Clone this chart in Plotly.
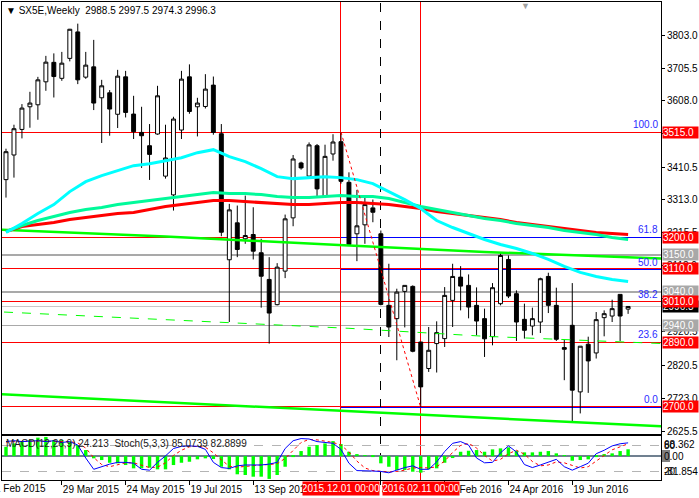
import pandas as pd
import plotly.graph_objects as go

# SX5E weekly bars, first bar week of 8 Feb 2015
weeks = pd.date_range("2015-02-08", periods=79, freq="7D")

opens = [3373.5, 3446.8, 3522.8, 3590.2, 3596.1, 3664.4, 3722.3, 3674.8, 3734.1, 3812.8,
         3678.3, 3708.9, 3616.9, 3631.7, 3567.9, 3679.2, 3568.5, 3513.9, 3474.4, 3509.2,
         3383.9, 3328.1, 3521.0, 3679.2, 3590.2, 3591.1, 3654.6, 3510.0, 3135.2, 3245.0,
         3197.5, 3210.3, 3156.0, 3076.7, 3001.6, 3101.4, 3259.8, 3423.1, 3384.0, 3474.4,
         3324.0, 3449.8, 3486.3, 3365.5, 3212.4, 3239.1, 3289.5, 3212.4, 2999.6, 2960.1,
         3041.1, 3056.0, 2890.6, 2811.7, 2885.9, 2900.7, 3014.4, 3083.6, 3059.0, 2999.6,
         2960.1, 2906.6, 3004.6, 3136.1, 3034.3, 2958.0, 2938.1, 2950.0, 3085.6, 2999.6,
         2874.0, 2940.2, 2742.2, 2884.0, 2858.0, 2963.0, 2967.8, 3032.2, 2988.5]
highs = [3465.5, 3536.8, 3598.2, 3634.7, 3679.2, 3741.6, 3749.0, 3753.4, 3821.7, 3837.4,
         3753.4, 3789.1, 3670.3, 3639.8, 3700.0, 3697.0, 3622.8, 3590.2, 3538.8, 3652.5,
         3536.8, 3560.5, 3697.0, 3716.3, 3616.9, 3687.2, 3680.1, 3538.8, 3301.4, 3296.4,
         3326.0, 3291.3, 3197.5, 3142.9, 3125.1, 3269.6, 3446.8, 3426.9, 3484.2, 3479.5,
         3477.4, 3508.6, 3515.0, 3395.2, 3343.0, 3321.0, 3314.2, 3222.2, 3123.3, 3049.1,
         3059.0, 3059.0, 2890.6, 2935.2, 2952.1, 3053.9, 3123.3, 3116.2, 3091.6, 3053.0,
         2989.8, 3065.8, 3156.8, 3148.0, 3044.1, 3004.6, 2992.7, 3081.8, 3096.6, 3052.1,
         2897.8, 3065.8, 2878.1, 2906.4, 2979.7, 2984.7, 3016.4, 3032.2, 2997.5]
lows = [3320.1, 3379.5, 3496.1, 3527.9, 3551.6, 3637.7, 3617.8, 3667.4, 3725.2, 3657.6,
        3673.3, 3580.4, 3482.5, 3504.1, 3527.0, 3558.4, 3494.3, 3408.3, 3372.6, 3507.1,
        3376.5, 3281.5, 3494.3, 3569.4, 3502.0, 3585.1, 3507.1, 3205.2, 2950.0, 3142.9,
        3182.7, 3136.1, 2992.7, 2885.9, 2999.6, 3080.6, 3234.9, 3403.2, 3381.0, 3323.1,
        3320.1, 3429.9, 3361.7, 3177.6, 3131.0, 3182.7, 3246.8, 2999.6, 2905.5, 2836.3,
        2934.0, 2860.0, 2697.0, 2801.6, 2799.8, 2875.8, 2935.2, 2984.7, 2961.0, 2910.5,
        2846.1, 2880.8, 2999.6, 3021.2, 2893.6, 2900.7, 2910.5, 2917.4, 2976.7, 2893.6,
        2777.0, 2653.2, 2678.2, 2739.3, 2841.4, 2907.5, 2950.0, 2893.6, 2974.3]
closes = [3456.6, 3524.9, 3586.3, 3601.2, 3670.3, 3722.9, 3680.1, 3719.9, 3820.8, 3670.3,
          3714.0, 3601.2, 3652.5, 3583.4, 3681.3, 3573.3, 3516.0, 3504.1, 3448.6, 3622.8,
          3437.9, 3553.7, 3672.4, 3576.2, 3601.2, 3642.7, 3513.9, 3217.1, 3283.6, 3165.8,
          3207.3, 3160.7, 3086.2, 2976.7, 3113.2, 3256.9, 3434.9, 3408.3, 3476.8, 3346.0,
          3442.7, 3485.4, 3368.5, 3180.6, 3236.1, 3299.3, 3276.5, 3002.5, 2935.2, 3039.0,
          3059.0, 2863.0, 2757.1, 2866.0, 2918.5, 3029.2, 3085.6, 3056.8, 2994.5, 2952.9,
          2900.1, 3052.1, 3148.0, 3027.2, 2950.0, 2925.4, 2960.1, 3078.8, 2999.6, 2898.7,
          2869.0, 2747.3, 2878.1, 2834.3, 2957.1, 2974.9, 2989.8, 2967.8, 2996.3]

# moving averages, read every second bar
ma_fast = [3216.2, 3242.9, 3272.6, 3299.3, 3337.9, 3367.6, 3385.4, 3400.2, 3415.1, 3421.0,
           3429.9, 3438.8, 3453.7, 3462.6, 3441.8, 3426.9, 3406.2, 3382.4, 3376.5, 3379.5,
           3382.4, 3379.5, 3373.5, 3361.7, 3337.9, 3314.2, 3287.5, 3251.8, 3231.1, 3213.3,
           3195.4, 3180.6, 3168.7, 3153.9, 3136.1, 3115.3, 3097.5, 3085.6, 3076.7, 3070.8]
ma_mid = [3219.2, 3237.0, 3251.8, 3263.7, 3275.6, 3284.5, 3290.4, 3299.3, 3305.3, 3311.2,
          3317.1, 3323.1, 3329.0, 3335.0, 3332.0, 3332.0, 3329.0, 3323.1, 3320.1, 3320.1,
          3323.1, 3326.1, 3323.1, 3323.1, 3317.1, 3305.3, 3293.4, 3284.5, 3275.6, 3266.7,
          3257.8, 3251.8, 3242.9, 3237.0, 3231.1, 3222.2, 3216.2, 3210.3, 3201.4, 3195.4]
ma_slow = [3219.2, 3234.0, 3240.0, 3245.9, 3254.8, 3260.7, 3266.7, 3272.6, 3275.6, 3284.5,
           3293.4, 3299.3, 3305.3, 3311.2, 3311.2, 3308.2, 3305.3, 3302.3, 3299.3, 3299.3,
           3302.3, 3305.3, 3305.3, 3302.3, 3299.3, 3293.4, 3287.5, 3278.6, 3272.6, 3266.7,
           3260.7, 3254.8, 3245.9, 3240.0, 3234.0, 3228.1, 3222.2, 3216.2, 3213.3, 3210.3]

# long averages that run across the whole window (bar offsets)
long_bars = [-1, 20, 43, 60, 83]
ma_long_upper = [3225.1, 3204.4, 3177.6, 3158.3, 3138.2]
ma_long_lower = [2735.4, 2711.7, 2685.0, 2665.7, 2638.9]
dash_bars = [-0.25, 20, 43, 60, 83]
ma_long_dash = [2979.7, 2956.5, 2931.3, 2907.6, 2885.3]

# levels
red_levels = [3515.0, 3200.0, 3110.0, 3010.0, 2890.0, 2700.0]
gray_levels = [3150.0, 3040.0, 2940.0]
bid = 2996.3
fib_high, fib_low = 3515.0, 2696.0
fib_pcts = [0.0, 23.6, 38.2, 50.0, 61.8, 100.0]
fib_drawn = [0.0, 50.0, 61.8]

# MACD(12,26,9) histogram and Stoch(5,3,3)
macd = [33.3, 45.4, 51.1, 57.2, 66.0, 68.4, 57.2, 57.2, 51.1, 39.3,
        21.5, -8.2, -14.3, -24.0, -26.1, -32.2, -44.0, -44.0, -41.8, -47.6,
        -47.6, -32.2, -24.0, -20.4, -11.8, -8.2, -10.7, -38.3, -47.6, -65.4,
        -67.9, -74.0, -74.0, -81.9, -67.9, -38.3, -3.6, 17.9, 33.3, 39.3,
        45.4, 53.6, 42.9, 15.4, 3.6, 0.5, -2.5, -26.1, -38.3, -50.1,
        -50.1, -56.1, -59.7, -47.6, -44.0, -24.0, -7.2, 15.4, 19.0, 21.5,
        15.4, 24.0, 27.5, 31.1, 19.0, 13.2, 13.2, 15.4, 17.9, 9.7,
        0.5, -16.8, -14.3, -11.8, -3.6, 6.1, 9.7, 17.9, 24.2]
stoch_main = [88, 90, 88, 89, 90, 88, 90, 86, 88, 80,
              50, 24, 30, 36, 40, 40, 38, 24, 22, 40,
              55, 72, 77, 78, 77, 70, 40, 28, 26, 32,
              34, 34, 34, 36, 40, 72, 90, 95, 94, 88,
              86, 84, 70, 38, 21, 21, 20, 19, 16, 22,
              28, 32, 24, 24, 41, 65, 84, 88, 80, 50,
              39, 40, 62, 78, 64, 35, 28, 34, 41, 47,
              30, 22, 30, 38, 60, 68, 78, 83, 85.07]
stoch_signal = [87, 88, 89, 89, 89, 89, 89, 88, 88, 85,
                73, 51, 35, 30, 35, 39, 39, 34, 28, 29,
                39, 56, 68, 76, 77, 75, 62, 46, 31, 29,
                31, 33, 34, 35, 37, 49, 67, 86, 93, 92,
                89, 86, 80, 64, 43, 27, 21, 20, 18, 19,
                22, 27, 28, 27, 30, 43, 63, 79, 84, 73,
                56, 43, 47, 60, 68, 59, 42, 32, 34, 41,
                39, 33, 27, 30, 43, 55, 69, 76, 82.89]

axis_ticks = [3803.0, 3705.5, 3608.0, 3510.5, 3410.5, 3313.0, 3215.5, 3118.0,
              3020.5, 2920.5, 2820.5, 2723.0, 2625.5]
time_ticks = ["2015-03-29", "2015-05-24", "2015-07-19", "2015-09-13", "2015-11-08",
              "2016-01-03", "2016-02-28", "2016-04-24", "2016-06-19"]
time_labels = ["29 Mar 2015", "24 May 2015", "19 Jul 2015", "13 Sep 2015", "8 Nov 2015",
               "3 Jan 2016", "28 Feb 2016", "24 Apr 2016", "19 Jun 2016"]


def wk(k):
    return weeks[0] + pd.Timedelta(days=7 * k)


def py(pix):
    # pixel row -> paper fraction (plot area runs from row 1 to row 480)
    return (480 - pix) / 479


def px(pix):
    # pixel column -> paper fraction (plot area runs from column 1 to column 662)
    return (pix - 1) / 661


FONT = "Liberation Sans"

fig = go.Figure()

fig.add_trace(go.Candlestick(
    x=weeks, open=opens, high=highs, low=lows, close=closes,
    increasing=dict(line=dict(color="black", width=1), fillcolor="white"),
    decreasing=dict(line=dict(color="black", width=1), fillcolor="black"),
    whiskerwidth=0, hoverinfo="skip", showlegend=False))

fig.add_trace(go.Scatter(x=[wk(k) for k in long_bars], y=ma_long_upper, mode="lines",
                         line=dict(color="#00ff00", width=2.5), hoverinfo="skip"))
fig.add_trace(go.Scatter(x=[wk(k) for k in long_bars], y=ma_long_lower, mode="lines",
                         line=dict(color="#00ff00", width=2.5), hoverinfo="skip"))
fig.add_trace(go.Scatter(x=[wk(k) for k in dash_bars], y=ma_long_dash, mode="lines",
                         line=dict(color="#00ff00", width=1, dash="dash"), hoverinfo="skip"))
fig.add_trace(go.Scatter(x=weeks[::2], y=ma_slow, mode="lines",
                         line=dict(color="#ff0000", width=3), hoverinfo="skip"))
fig.add_trace(go.Scatter(x=weeks[::2], y=ma_mid, mode="lines",
                         line=dict(color="#00fa9a", width=3), hoverinfo="skip"))
fig.add_trace(go.Scatter(x=weeks[::2], y=ma_fast, mode="lines",
                         line=dict(color="#00ffff", width=3), hoverinfo="skip"))

# fibo trend line 2015.12.01 -> 2016.02.11
fig.add_trace(go.Scatter(x=[wk(42), wk(52)], y=[fib_high, fib_low], mode="lines",
                         line=dict(color="#ff0000", width=1, dash="dot"), hoverinfo="skip"))

# indicator window
fig.add_trace(go.Bar(x=weeks, y=macd, xaxis="x2", yaxis="y2", marker_color="#00ff00",
                     marker_line_width=0, width=3 * 86400000, hoverinfo="skip"))
fig.add_trace(go.Scatter(x=weeks, y=stoch_signal, xaxis="x2", yaxis="y3", mode="lines",
                         line=dict(color="#ff0000", width=1, dash="dot"), hoverinfo="skip"))
fig.add_trace(go.Scatter(x=weeks, y=stoch_main, xaxis="x2", yaxis="y3", mode="lines",
                         line=dict(color="#0000ff", width=1), hoverinfo="skip"))

shapes = []
for lvl in gray_levels:
    shapes.append(dict(type="line", xref="paper", yref="y", x0=0, x1=1, y0=lvl, y1=lvl,
                       line=dict(color="#a9a9a9", width=1.5), layer="below"))
shapes.append(dict(type="line", xref="paper", yref="y", x0=0, x1=1, y0=bid, y1=bid,
                   line=dict(color="#c8c8c8", width=1), layer="below"))
for lvl in red_levels:
    shapes.append(dict(type="line", xref="paper", yref="y", x0=0, x1=1, y0=lvl, y1=lvl,
                       line=dict(color="#ff0000", width=1), layer="below"))
for p in fib_drawn:
    lvl = fib_low + p / 100 * (fib_high - fib_low)
    shapes.append(dict(type="line", xref="x", yref="y", x0=wk(42), x1=wk(95), y0=lvl, y1=lvl,
                       line=dict(color="#0000ff", width=1), layer="below"))
for k in (42, 52):
    shapes.append(dict(type="line", xref="x", yref="paper", x0=wk(k), x1=wk(k), y0=0, y1=1,
                       line=dict(color="#ff0000", width=1), layer="below"))
shapes.append(dict(type="line", xref="x", yref="paper", x0=wk(47), x1=wk(47), y0=0, y1=1,
                   line=dict(color="black", width=1, dash="dash"), layer="below"))
# indicator levels
shapes.append(dict(type="line", xref="paper", yref="y2", x0=0, x1=1, y0=0, y1=0,
                   line=dict(color="#708090", width=2), layer="below"))
for lvl in (80, 20):
    shapes.append(dict(type="line", xref="paper", yref="y3", x0=0, x1=1, y0=lvl, y1=lvl,
                       line=dict(color="#b4b4b4", width=1, dash="dash"), layer="below"))
# gray marker under the 0.00 label
shapes.append(dict(type="rect", xref="paper", yref="paper", x0=1.0015, x1=1.0135,
                   y0=py(462), y1=py(450), fillcolor="#808080", line_width=0))

ann = []
ann.append(dict(text="▼ SX5E,Weekly  2988.5 2997.5 2974.3 2996.3", xref="paper", yref="paper",
                x=0, xshift=2, y=py(10), xanchor="left", yanchor="middle", showarrow=False,
                font=dict(size=10, color="black")))
ann.append(dict(text="▼", xref="paper", yref="paper", x=px(526), y=py(5),
                xanchor="center", yanchor="middle", showarrow=False,
                font=dict(size=9, color="#a0a0a0")))
ann.append(dict(text="MACD(12,26,9) 24.213  Stoch(5,3,3) 85.0739 82.8899", xref="paper",
                yref="paper", x=0, xshift=2, y=py(443), xanchor="left", yanchor="middle",
                showarrow=False, font=dict(size=10, color="#202020")))

for p in fib_pcts:
    lvl = fib_low + p / 100 * (fib_high - fib_low)
    ann.append(dict(text=f"{p:.1f}", xref="paper", yref="y", x=1, xshift=-1, y=lvl,
                    xanchor="right", yanchor="bottom", showarrow=False,
                    font=dict(size=10, color="#2a2aff")))


def price_box(val, bg):
    return dict(text=f"{val:.1f}", xref="paper", yref="y", x=1, xshift=1, y=val,
                xanchor="left", yanchor="middle", showarrow=False, bgcolor=bg,
                width=35, height=11, align="left", borderpad=0,
                font=dict(size=10, color="white"))


ann.append(price_box(bid, "black"))
for lvl in gray_levels:
    ann.append(price_box(lvl, "#a8a8a8"))
for lvl in red_levels:
    ann.append(price_box(lvl, "#ff0000"))

# indicator scale labels
for txt, yref, yv, anc in [("68.362", "y2", 68.362, "top"), ("80", "y3", 80, "middle"),
                           ("0.00", "y2", 0, "middle"), ("20", "y3", 20, "middle"),
                           ("-81.854", "y2", -81.854, "bottom")]:
    ann.append(dict(text=txt, xref="paper", yref=yref, x=1, xshift=1, y=yv, xanchor="left",
                    yanchor=anc, showarrow=False, font=dict(size=10, color="black")))

# first time label sits partly off the left edge
ann.append(dict(text="1 Feb 2015", xref="paper", yref="paper", x=0, xshift=-9, y=py(489),
                xanchor="left", yanchor="middle", showarrow=False, font=dict(size=10)))
for k, txt in [(42, "2015.12.01 00:00"), (52, "2016.02.11 00:00")]:
    ann.append(dict(text=txt, xref="x", yref="paper", x=wk(k), y=py(489), xanchor="center",
                    yanchor="middle", showarrow=False, bgcolor="#ff0000", width=76, height=13,
                    borderpad=0, font=dict(size=10, color="white")))

fig.update_layout(
    width=699, height=498,
    margin=dict(l=1, r=37, t=1, b=18),
    paper_bgcolor="white", plot_bgcolor="white",
    showlegend=False,
    font=dict(family=FONT, size=10, color="black"),
    shapes=shapes, annotations=ann,
    xaxis=dict(domain=[0, 1], anchor="y", range=[wk(-0.5), wk(82.125)],
               rangeslider=dict(visible=False), showticklabels=False, ticks="",
               showgrid=False, zeroline=False, showline=True, mirror=True,
               linecolor="black", linewidth=1),
    yaxis=dict(domain=[py(434), 1], anchor="x", side="right", range=[2616.7, 3901.8],
               tickvals=axis_ticks, ticktext=[f"{v:.1f}" for v in axis_ticks],
               ticks="outside", ticklen=3, tickcolor="black", showgrid=False,
               zeroline=False, showline=True, mirror=True, linecolor="black", linewidth=1),
    xaxis2=dict(domain=[0, 1], anchor="y2", matches="x", tickvals=time_ticks,
                ticktext=time_labels, ticks="outside", ticklen=4, tickcolor="black",
                tickangle=0, ticklabelposition="outside right", showgrid=False,
                zeroline=False, showline=True, mirror=True, linecolor="black", linewidth=1),
    yaxis2=dict(domain=[0, py(436)], anchor="x2", side="right", range=[-85.8, 71.5],
                showticklabels=False, ticks="", showgrid=False, zeroline=False,
                showline=True, mirror=True, linecolor="black", linewidth=1),
    yaxis3=dict(domain=[0, py(436)], anchor="x2", overlaying="y2", range=[-0.7, 100.7],
                visible=False, showgrid=False, zeroline=False),
)

# drop the default page margin and draw the level lines without smoothing, as the terminal does
js = ("document.body.style.margin='0px';"
      "document.querySelectorAll('.shapelayer path').forEach(function(p){"
      "p.style.shapeRendering='crispEdges';});")
fig.write_html("out.html", config={"displayModeBar": False}, post_script=js)
